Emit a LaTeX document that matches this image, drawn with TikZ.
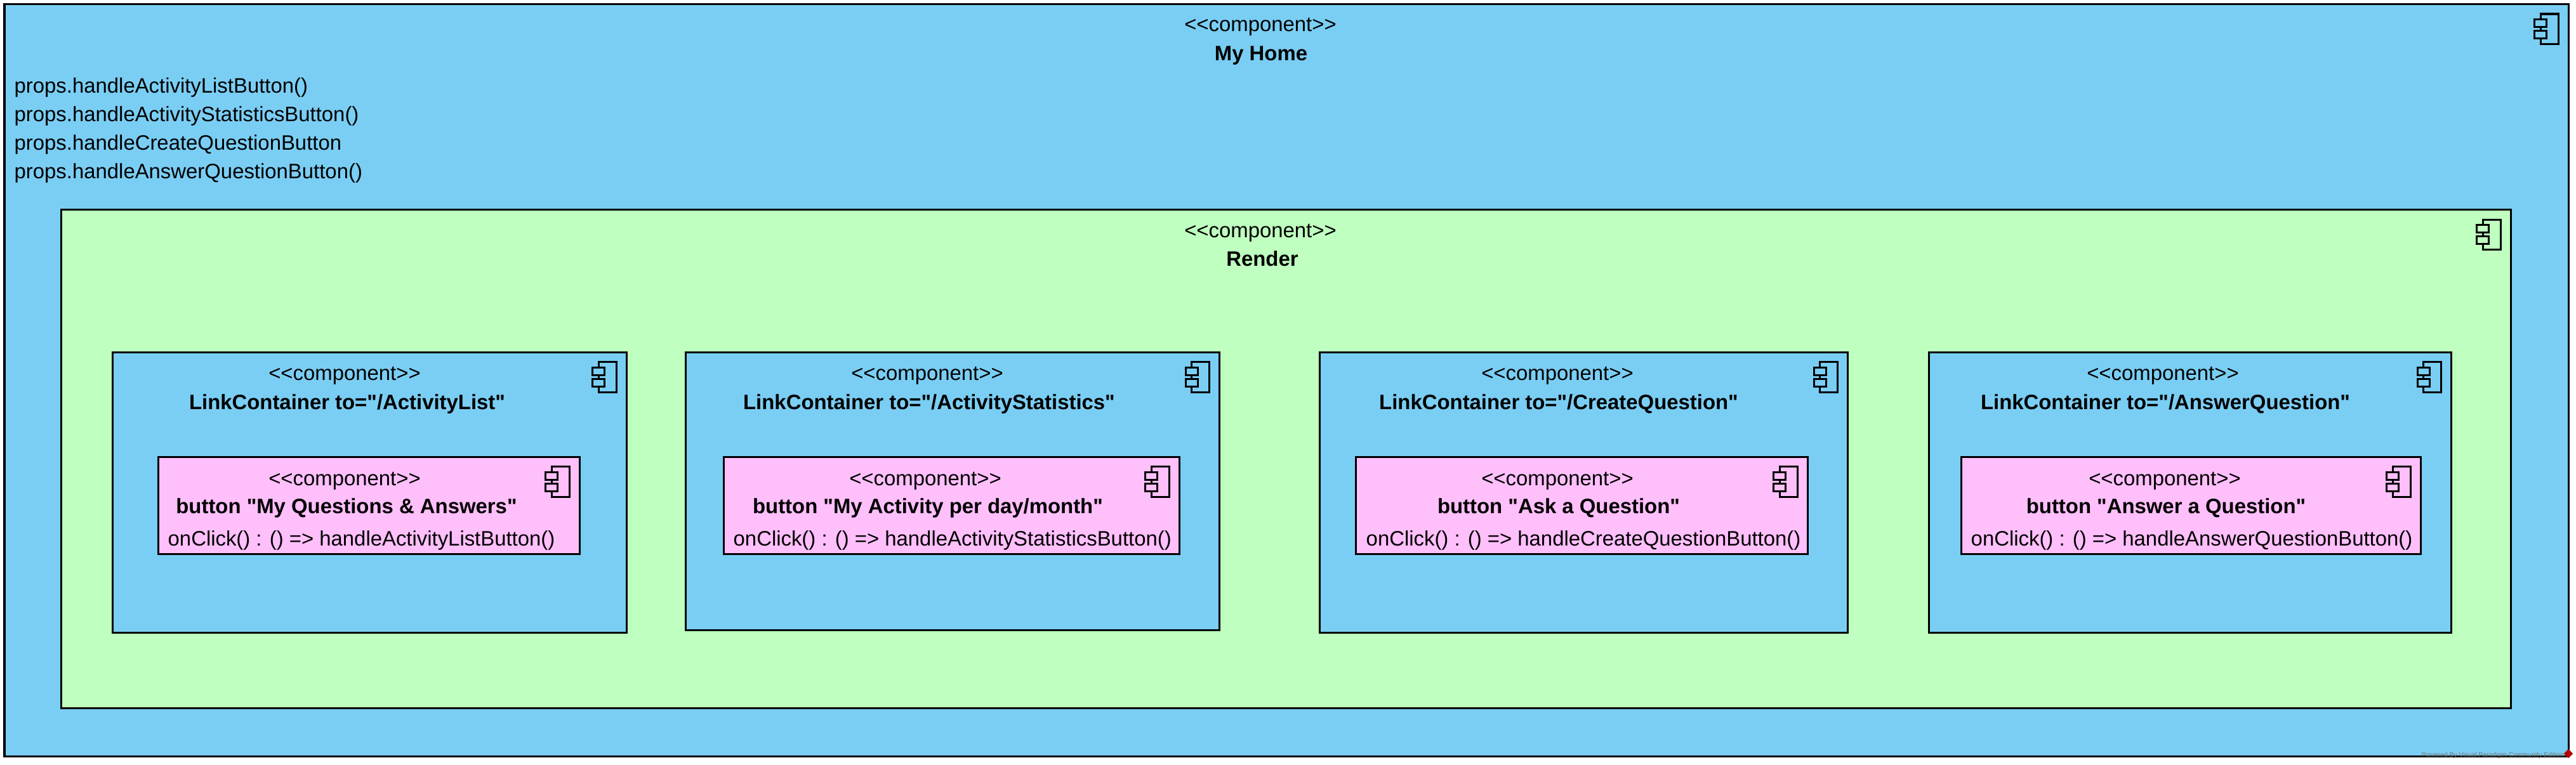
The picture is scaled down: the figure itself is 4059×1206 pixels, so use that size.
\documentclass[tikz,border=0pt]{standalone}
\usepackage{fontspec}
\setmainfont[Ligatures=TeXOff]{Liberation Sans}
\usetikzlibrary{shapes.geometric}
\definecolor{homeblue}{HTML}{7ACEF4}
\definecolor{rendergreen}{HTML}{BFFFBF}
\definecolor{buttonpink}{HTML}{FFBFFB}
\tikzset{
  pics/compicon/.style={code={
    \draw[line width=0.03cm] (-44,24) -- (-44,15.5) -- (-16,15.5) -- (-16,63) -- (-44,63) -- (-44,54);
    \draw[line width=0.03cm] (-44,36) -- (-44,42);
    \draw[line width=0.03cm] (-53.5,24) rectangle (-34.5,36);
    \draw[line width=0.03cm] (-53.5,42) rectangle (-34.5,54);
  }}
}

\begin{document}
\begin{tikzpicture}
[x=0.01cm,y=-0.01cm,
 compbox/.style={rectangle,draw,line width=0.03cm,anchor=north west,outer sep=0pt,inner sep=0pt},
 stereo/.style={anchor=base,inner sep=0pt,font=\fontsize{9.35}{11}\selectfont},
 compname/.style={anchor=base,inner sep=0pt,font=\fontsize{9.35}{11}\selectfont\bfseries},
 member/.style={anchor=base west,inner sep=0pt,font=\fontsize{9.35}{11}\selectfont}]

\useasboundingbox (0,0) rectangle (4059,1206);

\node[compbox,fill=homeblue,minimum width=40.377cm,minimum height=11.852cm] (home) at (7,6.5) {};
\node[compbox,fill=rendergreen,minimum width=38.575cm,minimum height=7.86cm] (render) at (96.5,330.5) {};

\node[compbox,fill=homeblue,minimum width=8.1cm,minimum height=4.42cm] (l1) at (177,555) {};
\node[compbox,fill=homeblue,minimum width=8.41cm,minimum height=4.38cm] (l2) at (1080,555) {};
\node[compbox,fill=homeblue,minimum width=8.32cm,minimum height=4.42cm] (l3) at (2079,555) {};
\node[compbox,fill=homeblue,minimum width=8.23cm,minimum height=4.42cm] (l4) at (3039,555) {};

\node[compbox,fill=buttonpink,minimum width=6.64cm,minimum height=1.53cm] (b1) at (249,720) {};
\node[compbox,fill=buttonpink,minimum width=7.18cm,minimum height=1.53cm] (b2) at (1140,720) {};
\node[compbox,fill=buttonpink,minimum width=7.12cm,minimum height=1.53cm] (b3) at (2136,720) {};
\node[compbox,fill=buttonpink,minimum width=7.24cm,minimum height=1.53cm] (b4) at (3090,720) {};

\foreach \comp in {home,render,l1,l2,l3,l4,b1,b2,b3,b4}
  \pic at (\comp.north east) {compicon};

% outer texts
\node[stereo] (homestereo) at (1986,50) {<<component>>};
\node[compname] (homename) at (1987,95) {My Home};
\node[member] (prop1) at (22,146) {props.handleActivityListButton()};
\node[member] (prop2) at (22,191) {props.handleActivityStatisticsButton()};
\node[member] (prop3) at (22,236) {props.handleCreateQuestionButton};
\node[member] (prop4) at (22,281) {props.handleAnswerQuestionButton()};
\node[stereo] (renderstereo) at (1986,374) {<<component>>};
\node[compname] (rendername) at (1989,419) {Render};

% link containers
\node[stereo] (l1stereo) at (543,599) {<<component>>};
\node[compname] (l1name) at (547,645) {LinkContainer to="/ActivityList"};
\node[stereo] (l2stereo) at (1461,599) {<<component>>};
\node[compname] (l2name) at (1464,645) {LinkContainer to="/ActivityStatistics"};
\node[stereo] (l3stereo) at (2454,599) {<<component>>};
\node[compname] (l3name) at (2456,645) {LinkContainer to="/CreateQuestion"};
\node[stereo] (l4stereo) at (3408,599) {<<component>>};
\node[compname] (l4name) at (3412,645) {LinkContainer to="/AnswerQuestion"};

% buttons
\node[stereo] (b1stereo) at (543,765) {<<component>>};
\node[compname] (b1name) at (546,809) {button "My Questions \& Answers"};
\node[member] (b1click) at (264,860) {onClick() : () => handleActivityListButton()};
\node[stereo] (b2stereo) at (1458,765) {<<component>>};
\node[compname] (b2name) at (1462,809) {button "My Activity per day/month"};
\node[member] (b2click) at (1155,860) {onClick() : () => handleActivityStatisticsButton()};
\node[stereo] (b3stereo) at (2454,765) {<<component>>};
\node[compname] (b3name) at (2456,809) {button "Ask a Question"};
\node[member] (b3click) at (2152,860) {onClick() : () => handleCreateQuestionButton()};
\node[stereo] (b4stereo) at (3411,765) {<<component>>};
\node[compname] (b4name) at (3413,809) {button "Answer a Question"};
\node[member] (b4click) at (3105,860) {onClick() : () => handleAnswerQuestionButton()};

% watermark
\node[anchor=base west,inner sep=0pt,text=black!55,font=\fontsize{2.95}{3.5}\selectfont] (mark) at (3815,1193) {Powered By Visual Paradigm Community Edition};
\node[diamond,fill=red!70!black,inner sep=0pt,minimum size=0.15cm] (logo) at (4047,1188) {};

\end{tikzpicture}
\end{document}
